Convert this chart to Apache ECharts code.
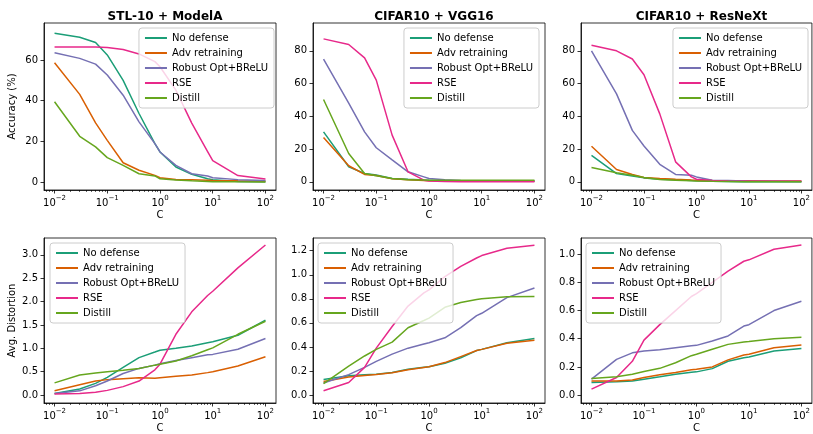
<!DOCTYPE html>
<html>
<head>
<meta charset="utf-8">
<script src="https://cdn.jsdelivr.net/npm/echarts@6/dist/echarts.min.js"></script>
<style>
  html, body { margin: 0; padding: 0; background: #fff; }
  #main { width: 813px; height: 434px; }
</style>
</head>
<body>
<div id="main"></div>
<script>
// C values on the x axis (log scale)
var cValues = [0.01, 0.03, 0.06, 0.1, 0.2, 0.4, 0.8, 1, 2, 4, 8, 10, 30, 100];
var seriesNames = ['No defense', 'Adv retraining', 'Robust Opt+BReLU', 'RSE', 'Distill'];
var seriesColors = ['#1b9e77', '#d95f02', '#7570b3', '#e7298a', '#66a61e'];

// accuracy (%) -- rows follow seriesNames
var accStl = [
    [73.2, 71.2, 68.6, 62.5, 50, 33.7, 18.9, 14.8, 7.4, 3.8, 1.6, 1.2, 0.3, 0.1],
    [58.7, 43.1, 29.1, 20.5, 9.5, 5.8, 3.3, 2.1, 1.3, 1.2, 0.9, 0.8, 0.6, 0.5],
    [63.6, 60.8, 58, 52.6, 42.7, 29.6, 18.9, 14.8, 8.2, 4.1, 3, 2.1, 1.2, 0.8],
    [66.4, 66.4, 66.4, 66.2, 65.2, 63, 59.2, 56.7, 45.2, 29, 15, 10.5, 3.2, 1.5],
    [39.5, 22.5, 17.3, 12, 8.2, 4.1, 3, 1.6, 1, 0.6, 0.3, 0.2, 0.1, 0]
];
var accVgg = [
    [30.5, 9.2, 5.1, 4.1, 2, 1.5, 1.1, 1, 0.8, 0.7, 0.6, 0.6, 0.5, 0.5],
    [27, 9.8, 4.5, 3.8, 1.8, 1.2, 0.8, 0.7, 0.5, 0.4, 0.3, 0.3, 0.3, 0.3],
    [74.9, 48, 30.5, 20.8, 13.4, 6.1, 3, 2, 1.2, 0.8, 0.6, 0.5, 0.5, 0.5],
    [87.3, 83.9, 75.7, 62.1, 28.5, 6.1, 1, 0.5, 0.2, 0.1, 0, 0, 0, 0],
    [50.3, 17.3, 5.1, 3.7, 2, 1.3, 1.1, 1, 1, 1, 1, 1, 1, 1]
];
var accResnext = [
    [16.2, 5, 3.6, 2.4, 1.5, 1.2, 0.8, 0.6, 0.3, 0.2, 0.1, 0.1, 0, 0],
    [21.7, 7.5, 4.5, 2.6, 2, 1.5, 1.1, 1, 0.8, 0.7, 0.6, 0.6, 0.5, 0.5],
    [80, 53.7, 31.4, 21.9, 10.7, 4.5, 4, 3, 1, 0.8, 0.5, 0.4, 0.3, 0.2],
    [83.4, 80, 75, 65.4, 41.5, 12.2, 3, 1.6, 0.8, 0.5, 0.4, 0.3, 0.3, 0.3],
    [8.7, 5.5, 4, 2.6, 1.4, 1, 0.6, 0.5, 0.3, 0.2, 0.1, 0.1, 0, 0]
];

// average distortion -- rows follow seriesNames
var distStl = [
    [0.035, 0.13, 0.25, 0.38, 0.59, 0.8, 0.92, 0.96, 1.0, 1.05, 1.12, 1.14, 1.28, 1.6],
    [0.09, 0.22, 0.3, 0.33, 0.35, 0.37, 0.36, 0.37, 0.4, 0.43, 0.48, 0.5, 0.62, 0.82],
    [0.035, 0.09, 0.2, 0.3, 0.46, 0.57, 0.64, 0.67, 0.74, 0.8, 0.86, 0.87, 0.98, 1.21],
    [0.02, 0.035, 0.06, 0.1, 0.18, 0.3, 0.54, 0.66, 1.3, 1.78, 2.13, 2.22, 2.72, 3.21],
    [0.26, 0.43, 0.47, 0.5, 0.53, 0.57, 0.64, 0.66, 0.73, 0.84, 0.97, 1.01, 1.3, 1.58]
];
var distVgg = [
    [0.13, 0.16, 0.168, 0.173, 0.187, 0.215, 0.232, 0.236, 0.264, 0.31, 0.37, 0.38, 0.435, 0.47],
    [0.113, 0.15, 0.163, 0.17, 0.185, 0.21, 0.23, 0.236, 0.27, 0.32, 0.37, 0.38, 0.43, 0.455],
    [0.1, 0.17, 0.23, 0.28, 0.34, 0.39, 0.425, 0.435, 0.476, 0.56, 0.66, 0.68, 0.81, 0.89],
    [0.036, 0.105, 0.23, 0.39, 0.57, 0.74, 0.85, 0.875, 0.985, 1.07, 1.14, 1.16, 1.22, 1.245],
    [0.096, 0.24, 0.325, 0.38, 0.44, 0.56, 0.62, 0.64, 0.73, 0.77, 0.795, 0.8, 0.817, 0.82]
];
var distResnext = [
    [0.09, 0.094, 0.1, 0.113, 0.13, 0.148, 0.162, 0.165, 0.188, 0.24, 0.265, 0.27, 0.313, 0.33],
    [0.1, 0.1, 0.108, 0.125, 0.144, 0.16, 0.18, 0.184, 0.2, 0.25, 0.285, 0.29, 0.336, 0.355],
    [0.113, 0.254, 0.3, 0.313, 0.322, 0.336, 0.35, 0.353, 0.384, 0.42, 0.49, 0.5, 0.6, 0.666],
    [0.042, 0.125, 0.24, 0.39, 0.5, 0.6, 0.7, 0.72, 0.8, 0.88, 0.95, 0.96, 1.035, 1.065],
    [0.118, 0.13, 0.148, 0.167, 0.19, 0.23, 0.28, 0.29, 0.325, 0.36, 0.377, 0.38, 0.4, 0.41]
];

var panelTitles = ['STL-10 + ModelA', 'CIFAR10 + VGG16', 'CIFAR10 + ResNeXt', '', '', ''];
var xTicks = [0.01, 0.1, 1, 10, 100];
var yTicksAcc1 = [0, 20, 40, 60];
var yTicksAcc = [0, 20, 40, 60, 80];
var yTicksDist1 = [0, 0.5, 1.0, 1.5, 2.0, 2.5, 3.0];
var yTicksDist2 = [0, 0.2, 0.4, 0.6, 0.8, 1.0, 1.2];
var yTicksDist3 = [0, 0.2, 0.4, 0.6, 0.8, 1.0];

var FONT = 'DejaVu Sans';
var LOG_MIN = -2.2, LOG_MAX = 2.2;   // x extent in decades (matplotlib 5% margin)

// layout of the six axes boxes
var panels = [
    {data: accStl, box: [44, 23, 232, 167], y: [-3.9, 78.2], ticks: yTicksAcc1, dec: 0, yName: 'Accuracy (%)', legend: {right: 539, top: 28}},
    {data: accVgg, box: [313, 23, 232, 167], y: [-5, 97], ticks: yTicksAcc, dec: 0, yName: '', legend: {right: 274, top: 28}},
    {data: accResnext, box: [581, 23, 231, 167], y: [-5, 97], ticks: yTicksAcc, dec: 0, yName: '', legend: {right: 5, top: 28}},
    {data: distStl, box: [44, 238, 232, 166], y: [-0.17, 3.36], ticks: yTicksDist1, dec: 1, yName: 'Avg. Distortion', legend: {left: 50, top: 243}},
    {data: distVgg, box: [313, 238, 232, 166], y: [-0.066, 1.306], ticks: yTicksDist2, dec: 1, yName: '', legend: {left: 318, top: 243}},
    {data: distResnext, box: [581, 238, 231, 166], y: [-0.056, 1.115], ticks: yTicksDist3, dec: 1, yName: '', legend: {left: 586, top: 243}}
];

// minor tick positions (2..9 in every decade), in decades
var minorTicks = [];
for (var e = -3; e <= 2; e++) {
    for (var k = 2; k <= 9; k++) {
        var lv = e + Math.log10(k);
        if (lv > LOG_MIN && lv < LOG_MAX) minorTicks.push(lv);
    }
}

function powLabel(v) {
    var ex = Math.round(Math.log10(v));
    return '{b|10}{s|' + (ex < 0 ? '\u2212' + (-ex) : ex) + '}';
}

var grid = [], xAxis = [], yAxis = [], series = [], legend = [], title = [];

panels.forEach(function (p, i) {
    grid.push({
        left: p.box[0], top: p.box[1], width: p.box[2], height: p.box[3],
        show: true, borderColor: '#000', borderWidth: 0.8, backgroundColor: 'transparent'
    });

    // major ticks + labels
    xAxis.push({
        type: 'log', gridIndex: i, min: Math.pow(10, LOG_MIN), max: Math.pow(10, LOG_MAX),
        position: 'bottom',
        name: 'C', nameLocation: 'middle', nameGap: 20,
        nameTextStyle: {fontFamily: FONT, fontSize: 10, color: '#000'},
        axisLine: {show: true, onZero: false, lineStyle: {color: '#000', width: 0.8}},
        axisTick: {show: true, inside: false, length: 3.5, lineStyle: {color: '#000', width: 0.8}, customValues: xTicks},
        axisLabel: {
            show: true, margin: 5, customValues: xTicks, formatter: powLabel,
            rich: {
                b: {fontFamily: FONT, fontSize: 10, color: '#000', verticalAlign: 'bottom', padding: [3, 0, 0, 0]},
                s: {fontFamily: FONT, fontSize: 7, color: '#000', verticalAlign: 'top'}
            }
        },
        splitLine: {show: false}
    });
    // minor ticks (decoration only, axis in decades)
    xAxis.push({
        type: 'value', gridIndex: i, min: LOG_MIN, max: LOG_MAX, position: 'bottom',
        axisLine: {show: false, onZero: false},
        axisTick: {show: true, inside: false, length: 2, lineStyle: {color: '#000', width: 0.6}, customValues: minorTicks},
        axisLabel: {show: false},
        splitLine: {show: false}
    });

    yAxis.push({
        type: 'value', gridIndex: i, min: p.y[0], max: p.y[1],
        position: 'left',
        name: p.yName, nameLocation: 'middle', nameGap: 27, nameRotate: 90,
        nameTextStyle: {fontFamily: FONT, fontSize: 10, color: '#000'},
        axisLine: {show: true, onZero: false, lineStyle: {color: '#000', width: 0.8}},
        axisTick: {show: true, inside: false, length: 3.5, lineStyle: {color: '#000', width: 0.8}, customValues: p.ticks},
        axisLabel: {
            show: true, margin: 6, customValues: p.ticks,
            fontFamily: FONT, fontSize: 10, color: '#000',
            formatter: (function (d) { return function (v) { return v.toFixed(d); }; })(p.dec)
        },
        splitLine: {show: false}
    });

    if (panelTitles[i]) {
        title.push({
            text: panelTitles[i],
            left: p.box[0] + p.box[2] / 2, top: 6, textAlign: 'center',
            textStyle: {fontFamily: FONT, fontSize: 12, fontWeight: 'bold', color: '#000'}
        });
    }

    var lg = {
        orient: 'vertical', data: seriesNames, selectedMode: false,
        icon: 'rect', itemWidth: 22, itemHeight: 2, itemGap: 3, padding: [4, 6, 4, 6],
        backgroundColor: 'rgba(255,255,255,0.8)', borderColor: '#cccccc', borderWidth: 1, borderRadius: 3,
        textStyle: {fontFamily: FONT, fontSize: 10, color: '#000', lineHeight: 12}
    };
    for (var key in p.legend) lg[key] = p.legend[key];
    legend.push(lg);

    p.data.forEach(function (vals, s) {
        series.push({
            type: 'line', name: seriesNames[s], xAxisIndex: i * 2, yAxisIndex: i,
            data: cValues.map(function (c, j) { return [c, vals[j]]; }),
            symbol: 'none', color: seriesColors[s],
            lineStyle: {width: 1.5, color: seriesColors[s]},
            emphasis: {disabled: true}, silent: true
        });
    });
});

var myChart = echarts.init(document.getElementById('main'), null, {renderer: 'canvas'});
myChart.setOption({
    animation: false,
    backgroundColor: '#fff',
    title: title,
    legend: legend,
    grid: grid,
    xAxis: xAxis,
    yAxis: yAxis,
    series: series
});
</script>
</body>
</html>
